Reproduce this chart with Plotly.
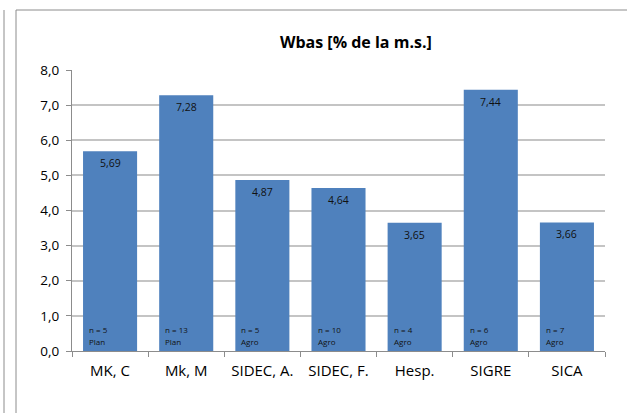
import plotly.graph_objects as go

categories = ["MK, C", "Mk, M", "SIDEC, A.", "SIDEC, F.", "Hesp.", "SIGRE", "SICA"]
values = [5.69, 7.28, 4.87, 4.64, 3.65, 7.44, 3.66]
value_labels = ["5,69", "7,28", "4,87", "4,64", "3,65", "7,44", "3,66"]
n_labels = ["n = 5", "n = 13", "n = 5", "n = 10", "n = 4", "n = 6", "n = 7"]
source_labels = ["Plan", "Plan", "Agro", "Agro", "Agro", "Agro", "Agro"]
y_ticks = [0, 1, 2, 3, 4, 5, 6, 7, 8]
y_tick_text = ["0,0", "1,0", "2,0", "3,0", "4,0", "5,0", "6,0", "7,0", "8,0"]
title_text = "Wbas [% de la m.s.]"

W, H = 627, 413
L, R, T, B = 72, 22, 70, 62
PW, PH = W - L - R, H - T - B
FONT = "Open Sans"

def px_x(px):
    return (px - L) / PW

def px_y(py):
    return (H - B - py) / PH

fig = go.Figure()
fig.add_trace(go.Bar(
    x=categories, y=values,
    marker=dict(color="#4F81BD", line=dict(width=0)),
    hoverinfo="skip",
))

annotations = []
for i, c in enumerate(categories):
    annotations.append(dict(x=c, y=values[i], xref="x", yref="y", text=value_labels[i],
                            showarrow=False, yanchor="middle", yshift=-12,
                            font=dict(family=FONT, size=10.5, color="#111")))
    annotations.append(dict(x=c, y=0, xref="x", yref="y", text=n_labels[i],
                            showarrow=False, xanchor="left", yanchor="middle",
                            xshift=-23, yshift=21.5,
                            font=dict(family=FONT, size=8, color="#111")))
    annotations.append(dict(x=c, y=0, xref="x", yref="y", text=source_labels[i],
                            showarrow=False, xanchor="left", yanchor="middle",
                            xshift=-23, yshift=9.5,
                            font=dict(family=FONT, size=8, color="#111")))

annotations.append(dict(x=px_x(356), y=px_y(42), xref="paper", yref="paper",
                        text="<b>" + title_text + "</b>", showarrow=False,
                        xanchor="center", yanchor="middle",
                        font=dict(family=FONT, size=16, color="#000")))

shapes = [
    dict(type="line", xref="paper", yref="paper", x0=px_x(4), x1=px_x(4), y0=px_y(10), y1=px_y(420),
         line=dict(color="#8c8c8c", width=1)),
    dict(type="line", xref="paper", yref="paper", x0=px_x(16), x1=px_x(16), y0=px_y(10), y1=px_y(420),
         line=dict(color="#8c8c8c", width=1)),
    dict(type="line", xref="paper", yref="paper", x0=px_x(16), x1=px_x(640), y0=px_y(10), y1=px_y(10),
         line=dict(color="#8c8c8c", width=1)),
]

fig.update_layout(
    width=W, height=H,
    margin=dict(l=L, r=R, t=T, b=B),
    paper_bgcolor="white", plot_bgcolor="white",
    bargap=0.29,
    showlegend=False,
    annotations=annotations,
    shapes=shapes,
    xaxis=dict(type="category", range=[-0.5, 6.5],
               showline=True, linecolor="#8c8c8c", linewidth=1,
               ticks="outside", tickson="boundaries", ticklen=5, tickcolor="#8c8c8c",
               tickfont=dict(family=FONT, size=15, color="#000"),
               ticklabelstandoff=6,
               showgrid=False),
    yaxis=dict(range=[0, 8], tickvals=y_ticks, ticktext=y_tick_text,
               showline=True, linecolor="#8c8c8c", linewidth=1,
               ticks="outside", ticklen=5, tickcolor="#8c8c8c",
               tickfont=dict(family=FONT, size=13.5, color="#000"),
               ticklabelstandoff=4,
               showgrid=True, gridcolor="#c4c4c4", gridwidth=1.5,
               zeroline=False),
)

fig.write_html("out.html", config={"displayModeBar": False},
               post_script="document.body.style.margin='0';")
